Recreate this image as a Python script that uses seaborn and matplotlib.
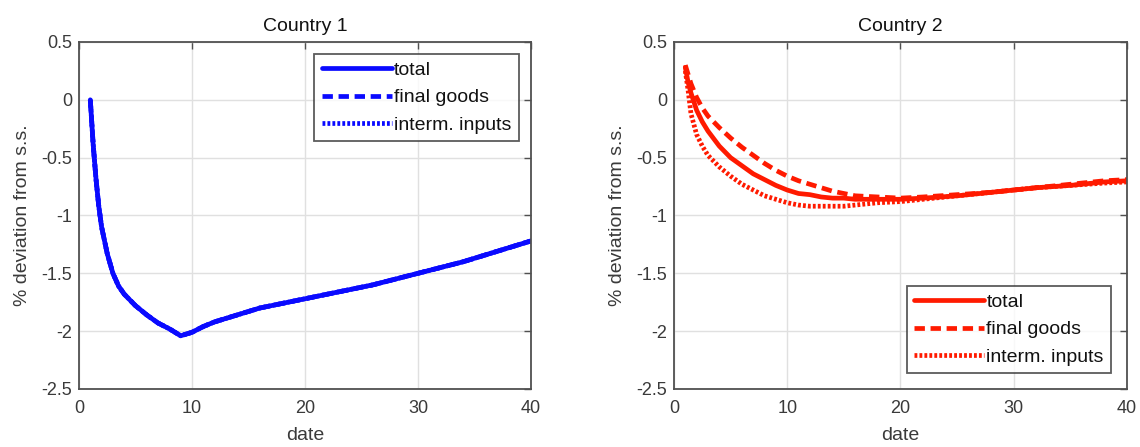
import matplotlib
matplotlib.use("Agg")
import matplotlib.pyplot as plt
import seaborn as sns
import pandas as pd
from matplotlib import font_manager

# ---------------- data ----------------
series_names = ["total", "final goods", "interm. inputs"]
panel_titles = ["Country 1", "Country 2"]
x_ticks = [0, 10, 20, 30, 40]
y_ticks = [0.5, 0, -0.5, -1, -1.5, -2, -2.5]
y_tick_labels = ["0.5", "0", "-0.5", "-1", "-1.5", "-2", "-2.5"]

dates_c1 = [1, 1.25, 1.5, 1.75, 2, 2.5, 3, 3.5, 4, 5, 6, 7, 8, 9, 10, 11, 12, 13,
            14, 15, 16, 17, 18, 19, 20, 22, 24, 26, 28, 30, 32, 34, 36, 38, 40]
c1_total = [0, -0.38, -0.68, -0.92, -1.10, -1.33, -1.50, -1.61, -1.68, -1.78, -1.86,
            -1.93, -1.98, -2.04, -2.01, -1.96, -1.92, -1.89, -1.86, -1.83, -1.80,
            -1.78, -1.76, -1.74, -1.72, -1.68, -1.64, -1.60, -1.55, -1.50, -1.45,
            -1.40, -1.34, -1.28, -1.22]
c1_final = [0, -0.38, -0.68, -0.92, -1.10, -1.33, -1.50, -1.61, -1.68, -1.78, -1.86,
            -1.93, -1.98, -2.04, -2.01, -1.96, -1.92, -1.89, -1.86, -1.83, -1.80,
            -1.78, -1.76, -1.74, -1.72, -1.68, -1.64, -1.60, -1.55, -1.50, -1.45,
            -1.40, -1.34, -1.28, -1.22]
c1_interm = [0, -0.38, -0.68, -0.92, -1.10, -1.33, -1.50, -1.61, -1.68, -1.78, -1.86,
             -1.93, -1.98, -2.04, -2.01, -1.96, -1.92, -1.89, -1.86, -1.83, -1.80,
             -1.78, -1.76, -1.74, -1.72, -1.68, -1.64, -1.60, -1.55, -1.50, -1.45,
             -1.40, -1.34, -1.28, -1.22]

dates_c2 = [1, 1.25, 1.5, 2, 2.5, 3, 4, 5, 6, 7, 8, 9, 10, 11, 12, 13, 14, 15, 16,
            18, 20, 22, 25, 28, 30, 32, 35, 38, 40]
c2_total = [0.28, 0.15, 0.06, -0.09, -0.19, -0.27, -0.40, -0.50, -0.57, -0.64, -0.69,
            -0.74, -0.78, -0.81, -0.82, -0.84, -0.85, -0.85, -0.86, -0.86, -0.86,
            -0.85, -0.83, -0.80, -0.78, -0.76, -0.74, -0.71, -0.70]
c2_final = [0.30, 0.22, 0.14, 0.02, -0.07, -0.14, -0.24, -0.33, -0.41, -0.48, -0.55,
            -0.61, -0.66, -0.70, -0.73, -0.76, -0.79, -0.81, -0.83, -0.84, -0.85,
            -0.84, -0.82, -0.80, -0.78, -0.76, -0.73, -0.70, -0.69]
c2_interm = [0.25, 0.08, -0.12, -0.30, -0.40, -0.48, -0.58, -0.66, -0.73, -0.78, -0.83,
             -0.86, -0.89, -0.91, -0.92, -0.92, -0.92, -0.92, -0.91, -0.89, -0.88,
             -0.86, -0.83, -0.80, -0.78, -0.76, -0.74, -0.72, -0.71]

# ---------------- style ----------------
sns.set_style("white")
avail = {f.name for f in font_manager.fontManager.ttflist}
fam = ["Liberation Sans Narrow"] if "Liberation Sans Narrow" in avail else []
plt.rcParams["font.family"] = fam + ["Liberation Sans", "DejaVu Sans"]

fig = plt.figure(figsize=(11.4, 4.47), dpi=100)
ax1 = fig.add_axes([0.0693, 0.1298, 0.3965, 0.7763])
ax2 = fig.add_axes([0.5912, 0.1298, 0.3974, 0.7763])

panels = [
    (ax1, dates_c1, [c1_total, c1_final, c1_interm], "#0a0aff", "upper right", 0.6),
    (ax2, dates_c2, [c2_total, c2_final, c2_interm], "#ff1a00", "lower right", 0.8),
]
styles = ["-", (0, (2.2, 1.2)), (0, (0.6, 0.45))]
text_col = "#3a3a3a"
axis_col = "#505050"

for (ax, dates, vals, col, loc, bpad), title in zip(panels, panel_titles):
    for name, v, ls in zip(series_names, vals, styles):
        df = pd.DataFrame({"date": dates, "value": v})
        sns.lineplot(data=df, x="date", y="value", ax=ax, color=col,
                     linestyle=ls, linewidth=3.4, label=name)
    ax.set_xlim(0, 40)
    ax.set_ylim(-2.5, 0.5)
    ax.set_xticks(x_ticks)
    ax.set_yticks(y_ticks)
    ax.set_yticklabels(y_tick_labels)
    ax.grid(True, color="#e0e0e0", linewidth=1.0)
    ax.set_axisbelow(True)
    for sp in ax.spines.values():
        sp.set_visible(True)
        sp.set_color(axis_col)
        sp.set_linewidth(1.3)
    ax.tick_params(direction="in", length=5, width=1, colors=axis_col,
                   top=True, right=True, labelcolor=text_col, labelsize=13)
    ax.tick_params(axis="x", pad=8)
    ax.tick_params(axis="y", pad=5)
    ax.set_title(title, fontsize=14, color="#111111", pad=8)
    ax.set_xlabel("date", fontsize=14, color=text_col, labelpad=7)
    ax.set_ylabel("% deviation from s.s.", fontsize=14, color=text_col, labelpad=7)
    leg = ax.legend(loc=loc, fontsize=14, frameon=True, fancybox=False,
                    handlelength=3.6, handletextpad=0.1, borderpad=0.4,
                    labelspacing=0.5, borderaxespad=bpad)
    leg.get_frame().set_edgecolor("#333333")
    leg.get_frame().set_linewidth(1.3)
    for t in leg.get_texts():
        t.set_color("#111111")

fig.savefig("out.png", dpi=100)
